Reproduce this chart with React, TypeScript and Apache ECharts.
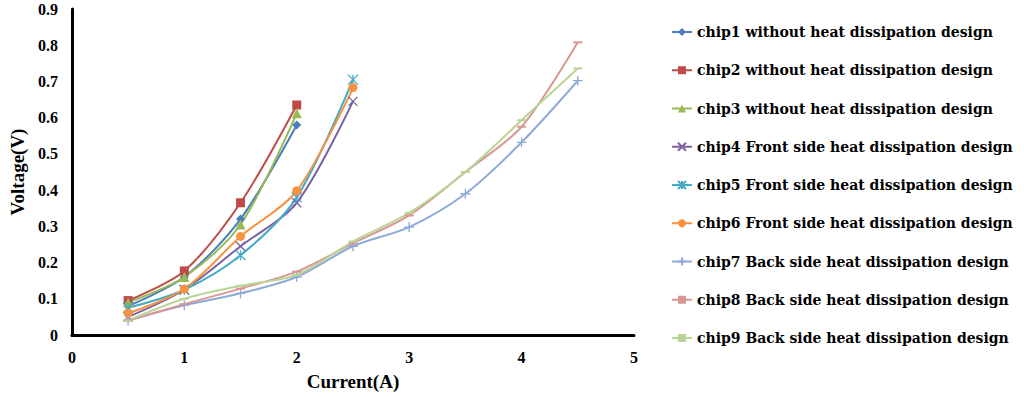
import React, { useEffect, useRef } from "react";
import * as echarts from "echarts";

const currentsShort = [0.5, 1, 1.5, 2];
const currentsMid = [0.5, 1, 1.5, 2, 2.5];
const currentsLong = [0.5, 1, 1.5, 2, 2.5, 3, 3.5, 4, 4.5];

const chip1 = [0.08, 0.16, 0.32, 0.58];
const chip2 = [0.095, 0.177, 0.365, 0.635];
const chip3 = [0.09, 0.16, 0.305, 0.612];
const chip4 = [0.05, 0.125, 0.245, 0.365, 0.645];
const chip5 = [0.075, 0.125, 0.22, 0.38, 0.705];
const chip6 = [0.06, 0.127, 0.272, 0.398, 0.683];
const chip7 = [0.04, 0.082, 0.115, 0.16, 0.245, 0.298, 0.39, 0.532, 0.702];
const chip8 = [0.04, 0.085, 0.128, 0.175, 0.253, 0.33, 0.45, 0.575, 0.808];
const chip9 = [0.04, 0.1, 0.136, 0.166, 0.258, 0.337, 0.45, 0.593, 0.736];

const seriesNames = [
  "chip1 without heat dissipation design",
  "chip2 without heat dissipation design",
  "chip3 without heat dissipation design",
  "chip4 Front side heat dissipation design",
  "chip5 Front side heat dissipation design",
  "chip6 Front side heat dissipation design",
  "chip7 Back side heat dissipation design",
  "chip8 Back side heat dissipation design",
  "chip9 Back side heat dissipation design",
];

const xTicks = [0, 1, 2, 3, 4, 5];
const yTicks = [0, 0.1, 0.2, 0.3, 0.4, 0.5, 0.6, 0.7, 0.8, 0.9];

const colors = [
  "#4a7ebb",
  "#be4b48",
  "#98b954",
  "#7d60a0",
  "#46aac5",
  "#f69240",
  "#8eaad8",
  "#d99694",
  "#b9d596",
];

const symbols = [
  "diamond",
  "rect",
  "triangle",
  "path://M0,0L10,10M10,0L0,10",
  "path://M0,0L10,10M10,0L0,10M5,0L5,10",
  "circle",
  "path://M5,0L5,10M0,5L10,5",
  "rect",
  "rect",
];
const symbolSizes: (number | number[])[] = [9, 9, 10, 9, 10, 9, 10, [9, 2], [9, 2]];
const strokeOnly = [false, false, false, true, true, false, true, false, false];

export default function App() {
  const ref = useRef<HTMLDivElement>(null);
  useEffect(() => {
    if (!ref.current) return;
    const chart = echarts.init(ref.current, undefined, { renderer: "svg" });
    const xs = [
      currentsShort, currentsShort, currentsShort,
      currentsMid, currentsMid, currentsMid,
      currentsLong, currentsLong, currentsLong,
    ];
    const ys = [chip1, chip2, chip3, chip4, chip5, chip6, chip7, chip8, chip9];
    const font = "Liberation Serif";
    const legendFont = "DejaVu Serif";
    chart.setOption({
      animation: false,
      textStyle: { fontFamily: font },
      grid: { left: 68, right: 390, top: 9, bottom: 62, containLabel: false },
      xAxis: {
        type: "value",
        min: xTicks[0],
        max: xTicks[xTicks.length - 1],
        interval: 1,
        name: "Current(A)",
        nameLocation: "middle",
        nameGap: 37,
        nameTextStyle: { fontFamily: font, fontWeight: "bold", fontSize: 19, color: "#000" },
        axisLine: { lineStyle: { color: "#000", width: 3 } },
        axisTick: { show: false },
        splitLine: { show: false },
        axisLabel: { fontFamily: font, fontWeight: "bold", fontSize: 16, color: "#000", margin: 14 },
      },
      yAxis: {
        type: "value",
        min: yTicks[0],
        max: yTicks[yTicks.length - 1],
        interval: 0.1,
        name: "Voltage(V)",
        nameLocation: "middle",
        nameGap: 38,
        nameTextStyle: { fontFamily: font, fontWeight: "bold", fontSize: 19, color: "#000" },
        axisLine: { show: true, lineStyle: { color: "#000", width: 3 } },
        axisTick: { show: false },
        splitLine: { show: false },
        axisLabel: {
          fontFamily: font, fontWeight: "bold", fontSize: 16, color: "#000", margin: 14,
          formatter: (v: number) => (v === 0 ? "0" : v.toFixed(1)),
        },
      },
      legend: seriesNames.map((name, i) => ({
        orient: "horizontal",
        left: 671,
        top: 25 + i * 38.25,
        padding: 0,
        itemWidth: 20,
        itemHeight: 10,
        textStyle: { fontFamily: legendFont, fontWeight: "bold", fontSize: 14, color: "#000" },
        data: [name],
      })),
      series: seriesNames.map((name, i) => ({
        name,
        type: "line",
        smooth: 0.3,
        data: xs[i].map((x, j) => [x, ys[i][j]]),
        symbol: symbols[i],
        symbolSize: symbolSizes[i],
        showSymbol: true,
        color: colors[i],
        lineStyle: { color: colors[i], width: 2 },
        itemStyle: strokeOnly[i]
          ? { color: colors[i], borderColor: colors[i], borderWidth: 1.3 }
          : { color: colors[i] },
      })),
    });
    return () => chart.dispose();
  }, []);
  return (
    <div
      ref={ref}
      style={{ position: "absolute", left: 0, top: 0, width: 1024, height: 397 }}
    />
  );
}
